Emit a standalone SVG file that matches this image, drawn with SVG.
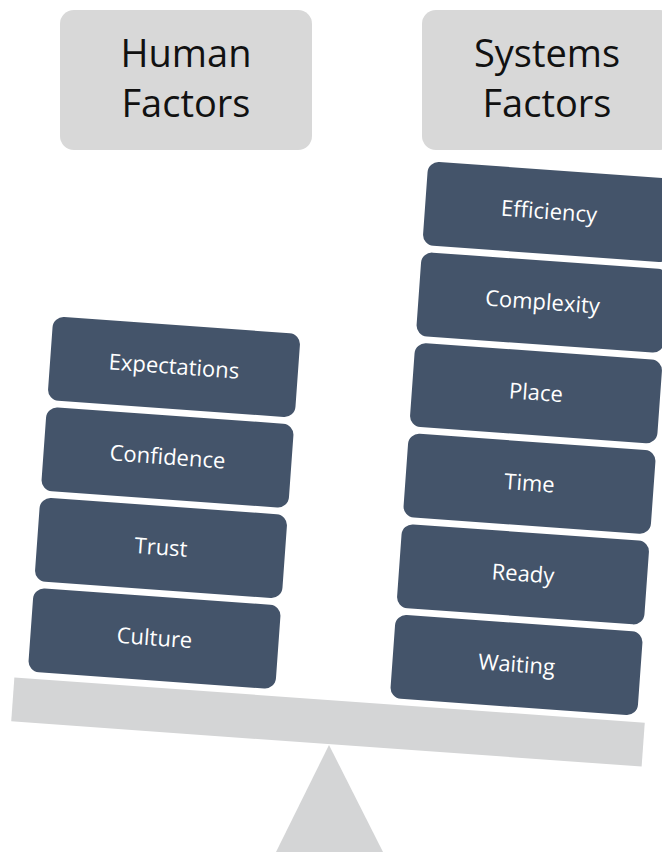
<svg xmlns="http://www.w3.org/2000/svg" width="662" height="852" viewBox="0 0 662 852">
<style>
.hdr{fill:#d8d8d8}
.hdrt{font-family:"Open Sans","Liberation Sans",sans-serif;font-size:38px;fill:#111;text-anchor:middle}
.blk{fill:#44546a}
.blkt{font-family:"Open Sans","Liberation Sans",sans-serif;font-size:22px;fill:#fff;text-anchor:middle}
.gray{fill:#d4d5d6}
</style>
<rect width="662" height="852" fill="#fff"/>
<g id="fulcrum"><polygon class="gray" points="329,745 276,852 383,852"/></g>
<g id="beam" transform="translate(328,722) rotate(4.1)"><rect class="gray" x="-316" y="-22" width="632" height="44"/></g>
<g id="human-factors"><rect class="hdr" x="60" y="10" width="252" height="140" rx="14"/><text class="hdrt" x="186" y="67">Human</text><text class="hdrt" x="186" y="117">Factors</text></g>
<g id="systems-factors"><rect class="hdr" x="422" y="10" width="252" height="140" rx="14"/><text class="hdrt" x="547" y="67">Systems</text><text class="hdrt" x="547" y="117">Factors</text></g>
<g id="expectations" transform="translate(174,367) rotate(4.1)"><rect class="blk" x="-124" y="-42" width="248" height="84" rx="11"/><text class="blkt" y="7">Expectations</text></g>
<g id="confidence" transform="translate(167.5,457.5) rotate(4.1)"><rect class="blk" x="-124" y="-42" width="248" height="84" rx="11"/><text class="blkt" y="7">Confidence</text></g>
<g id="trust" transform="translate(161,548) rotate(4.1)"><rect class="blk" x="-124" y="-42" width="248" height="84" rx="11"/><text class="blkt" y="7">Trust</text></g>
<g id="culture" transform="translate(154.5,638.5) rotate(4.1)"><rect class="blk" x="-124" y="-42" width="248" height="84" rx="11"/><text class="blkt" y="7">Culture</text></g>
<g id="efficiency" transform="translate(549,212) rotate(4.1)"><rect class="blk" x="-124" y="-42" width="248" height="84" rx="11"/><text class="blkt" y="7">Efficiency</text></g>
<g id="complexity" transform="translate(542.5,302.6) rotate(4.1)"><rect class="blk" x="-124" y="-42" width="248" height="84" rx="11"/><text class="blkt" y="7">Complexity</text></g>
<g id="place" transform="translate(536,393.2) rotate(4.1)"><rect class="blk" x="-124" y="-42" width="248" height="84" rx="11"/><text class="blkt" y="7">Place</text></g>
<g id="time" transform="translate(529.5,483.8) rotate(4.1)"><rect class="blk" x="-124" y="-42" width="248" height="84" rx="11"/><text class="blkt" y="7">Time</text></g>
<g id="ready" transform="translate(523,574.4) rotate(4.1)"><rect class="blk" x="-124" y="-42" width="248" height="84" rx="11"/><text class="blkt" y="7">Ready</text></g>
<g id="waiting" transform="translate(516.5,665) rotate(4.1)"><rect class="blk" x="-124" y="-42" width="248" height="84" rx="11"/><text class="blkt" y="7">Waiting</text></g>
<g id="connectors"/>
</svg>
